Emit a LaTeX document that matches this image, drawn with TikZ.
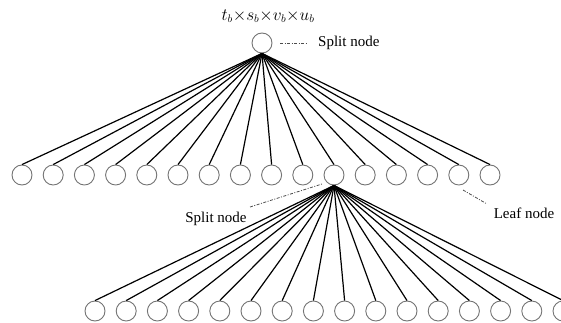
\documentclass[tikz,border=0pt]{standalone}
\usepackage{fontspec}
\setmainfont{Liberation Serif}
\begin{document}
\begin{tikzpicture}[x=1pt,y=-1pt,
  leafc/.style={circle,draw=black!55,line width=0.9pt,minimum size=20pt,inner sep=0pt},
  edge/.style={line width=1.2pt,black},
  callout/.style={line width=0.8pt,black!70,dash pattern=on 3pt off 1.5pt on 1pt off 1.5pt},
  lbl/.style={font=\fontsize{15}{17}\selectfont,inner sep=0pt}]
\useasboundingbox (0,0) rectangle (561,323);
\clip (0,0) rectangle (561,323);
\node[leafc] (root) at (262,43) {};
\node[inner sep=0pt,font=\fontsize{16}{18}\selectfont] (rlab) at (268,16) {$t_b{\times}s_b{\times}v_b{\times}u_b$};
\node[lbl,anchor=west] (sp1) at (318,43) {Split node};
\coordinate (sp1a) at (280,43);
\coordinate (sp1b) at (307,43);
\draw[callout] (sp1a) -- (sp1b);
\foreach \i in {0,...,15} {
  \node[leafc] (a\i) at ({22+31.2*\i},175) {};
  \draw[edge] (root.south) -- (a\i.north);
}
\foreach \i in {0,...,15} {
  \node[leafc] (b\i) at ({95+31.2*\i},311) {};
  \draw[edge] (a10.south) -- (b\i.north);
}
\node[lbl] (sp2) at (216,219) {Split node};
\coordinate (sp2a) at (250,207);
\coordinate (sp2b) at (322,184);
\draw[callout] (sp2a) -- (sp2b);
\node[lbl] (lf) at (524,213) {Leaf node};
\coordinate (lfa) at (463,190);
\coordinate (lfb) at (487,204);
\draw[callout] (lfa) -- (lfb);
\end{tikzpicture}
\end{document}
